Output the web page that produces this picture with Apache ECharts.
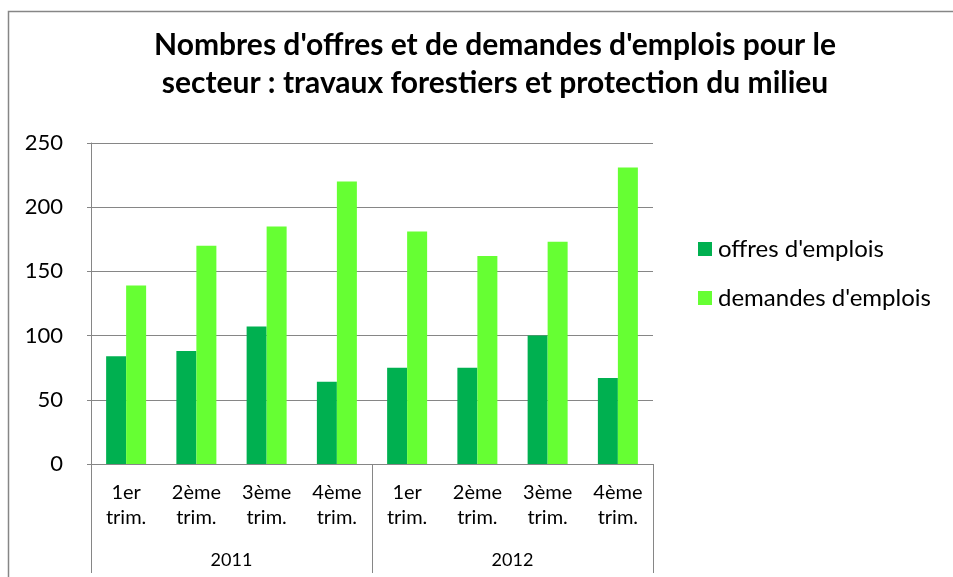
<!DOCTYPE html>
<html>
<head>
<meta charset="utf-8">
<script src="https://cdn.jsdelivr.net/npm/echarts@6/dist/echarts.min.js"></script>
<style>
  html, body { margin: 0; padding: 0; background: #fff; }
  #main { width: 953px; height: 577px; }
</style>
</head>
<body>
<div id="main"></div>
<script>
// trimestres et années
const trimestres = ['1er\ntrim.', '2ème\ntrim.', '3ème\ntrim.', '4ème\ntrim.',
                    '1er\ntrim.', '2ème\ntrim.', '3ème\ntrim.', '4ème\ntrim.'];
const annees = ['2011', '2012'];
const offres = [84, 88, 107, 64, 75, 75, 100, 67];
const demandes = [139, 170, 185, 220, 181, 162, 173, 231];
const yTicks = [0, 50, 100, 150, 200, 250];

const FONT = 'Lato';
const GRIS = '#868686';

const myChart = echarts.init(document.getElementById('main'));

const option = {
    backgroundColor: '#fff',
    animation: false,
    textStyle: { fontFamily: FONT },
    title: {
        text: "Nombres d'offres et de demandes d'emplois pour le\nsecteur : travaux forestiers et protection du milieu",
        left: 490,
        textAlign: 'center',
        top: 21,
        textStyle: {
            fontFamily: FONT,
            fontSize: 30,
            fontWeight: 'bold',
            color: '#000',
            lineHeight: 38
        }
    },
    legend: {
        orient: 'vertical',
        left: 693,
        top: 232,
        itemWidth: 14,
        itemHeight: 14,
        itemGap: 25,
        icon: 'rect',
        textStyle: { fontFamily: FONT, fontSize: 24, color: '#000', padding: [0, 0, 0, 1] },
        data: ["offres d'emplois", "demandes d'emplois"]
    },
    grid: {
        left: 91,
        right: 300,
        top: 143,
        bottom: 113,
        containLabel: false
    },
    xAxis: [
        {
            type: 'category',
            data: trimestres,
            axisLine: { lineStyle: { color: GRIS, width: 1 } },
            axisTick: { show: false },
            axisLabel: {
                interval: 0,
                color: '#000',
                fontFamily: FONT,
                fontSize: 20,
                lineHeight: 25,
                margin: 16
            }
        },
        {
            type: 'category',
            data: annees,
            position: 'bottom',
            offset: 109,
            axisLine: { show: false },
            axisTick: { show: true, inside: true, length: 109, lineStyle: { color: GRIS, width: 1 } },
            axisLabel: {
                inside: true,
                color: '#000',
                fontFamily: FONT,
                fontSize: 18,
                margin: 4
            }
        }
    ],
    yAxis: {
        type: 'value',
        min: yTicks[0],
        max: yTicks[yTicks.length - 1],
        interval: 50,
        axisLine: { show: true, lineStyle: { color: GRIS, width: 1 } },
        axisTick: { show: true, length: 4, lineStyle: { color: GRIS } },
        splitLine: { lineStyle: { color: GRIS, width: 1 } },
        axisLabel: {
            color: '#000',
            fontFamily: FONT,
            fontSize: 22,
            margin: 28
        }
    },
    series: [
        {
            name: "offres d'emplois",
            type: 'bar',
            data: offres,
            barWidth: 20,
            barGap: '0%',
            itemStyle: { color: '#00B050' }
        },
        {
            name: "demandes d'emplois",
            type: 'bar',
            data: demandes,
            barWidth: 20,
            barGap: '0%',
            itemStyle: { color: '#66FF33' }
        }
    ],
    graphic: [
        {
            type: 'rect',
            shape: { x: 8.5, y: 11.5, width: 1200, height: 1000 },
            style: { fill: 'none', stroke: GRIS, lineWidth: 1.5 },
            silent: true
        }
    ]
};

myChart.setOption(option);
</script>
</body>
</html>
